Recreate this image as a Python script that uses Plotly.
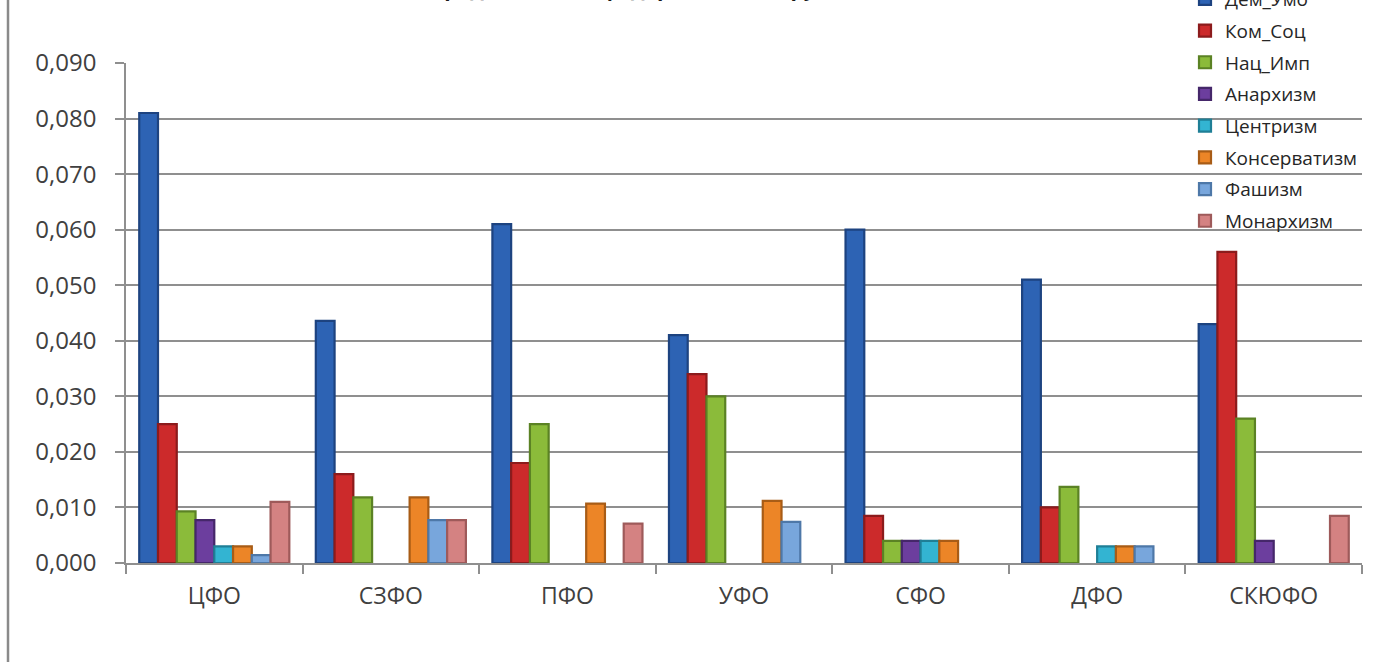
import plotly.graph_objects as go

# Federal districts on the category axis
regions = ["ЦФО", "СЗФО", "ПФО", "УФО", "СФО", "ДФО", "СКЮФО"]

# Share of each ideology per district (None = no value)
dem_umo = [0.081, 0.0436, 0.061, 0.041, 0.060, 0.051, 0.043]
kom_soc = [0.025, 0.016, 0.018, 0.034, 0.0085, 0.010, 0.056]
nac_imp = [0.0093, 0.0118, 0.025, 0.030, 0.004, 0.0137, 0.026]
anarhizm = [0.0077, None, None, None, 0.004, None, 0.004]
centrizm = [0.003, None, None, None, 0.004, 0.003, None]
konservatizm = [0.003, 0.0118, 0.0107, 0.0112, 0.004, 0.003, None]
fashizm = [0.0014, 0.0077, None, 0.0074, None, 0.003, None]
monarhizm = [0.011, 0.0077, 0.0071, None, None, None, 0.0085]

# (legend name, values, fill colour, edge colour)
series = [
    ("Дем_Умо", dem_umo, "#2d63b4", "#1d4380"),
    ("Ком_Соц", kom_soc, "#cc2a2b", "#8c1b1c"),
    ("Нац_Имп", nac_imp, "#8bbb3a", "#5b8224"),
    ("Анархизм", anarhizm, "#6c3e9e", "#45276a"),
    ("Центризм", centrizm, "#33b4d2", "#1f7f96"),
    ("Консерватизм", konservatizm, "#ec8527", "#a85c16"),
    ("Фашизм", fashizm, "#78a6dc", "#4e78a8"),
    ("Монархизм", monarhizm, "#d48282", "#9e5a5a"),
]

y_ticks = [0.0, 0.01, 0.02, 0.03, 0.04, 0.05, 0.06, 0.07, 0.08, 0.09]

W, H = 1375, 662
ML, MR, MT, MB = 126, 13, 63, 99
PW, PH = W - ML - MR, H - MT - MB

fig = go.Figure()
for name, vals, fill, edge in series:
    fig.add_trace(go.Bar(
        name=name, x=regions, y=vals,
        marker=dict(color=fill, line=dict(color=edge, width=2.2)),
        legendgroup=name,
    ))

font_family = "Open Sans, Noto Sans, DejaVu Sans, sans-serif"
grid_color = "#8f8f8f"

fig.update_layout(
    width=W, height=H,
    margin=dict(l=ML, r=MR, t=MT, b=MB, autoexpand=False),
    paper_bgcolor="white", plot_bgcolor="white",
    barmode="group", bargap=0.15, bargroupgap=0.0,
    separators=", ",
    font=dict(family=font_family, color="#404040"),
    title=dict(
        text="Распределение по федеральным округам",
        font=dict(size=21, color="#1a1a1a", family=font_family, weight="bold"),
        xref="container", yref="container",
        x=625 / W, xanchor="center",
        y=1.0, yanchor="bottom",
        pad=dict(b=4),
    ),
    legend=dict(
        x=(1185 - ML) / PW, xanchor="left",
        y=1 + (MT + 20) / PH, yanchor="top",
        font=dict(size=19, color="#262626", family=font_family),
        bgcolor="rgba(0,0,0,0)",
        tracegroupgap=4,
        itemwidth=30,
    ),
    showlegend=True,
)

fig.update_xaxes(
    type="category",
    showline=True, linecolor=grid_color, linewidth=1.5,
    ticks="outside", tickson="boundaries", ticklen=9, tickcolor=grid_color, tickwidth=1.5,
    tickfont=dict(size=23, color="#404040"),
    ticklabelstandoff=12,
    showgrid=False,
)
fig.update_yaxes(
    range=[0, 0.09], tickvals=y_ticks, tickformat=".3f",
    showline=True, linecolor=grid_color, linewidth=1.5,
    ticks="outside", ticklen=9, tickcolor=grid_color, tickwidth=1.5,
    showgrid=True, gridcolor=grid_color, gridwidth=1.8,
    tickfont=dict(size=24, color="#404040"),
    ticklabelstandoff=14,
    zeroline=False,
)

# Outer frame edge of the chart area on the left
fig.add_shape(
    type="line", xref="paper", yref="paper",
    x0=(8 - ML) / PW, x1=(8 - ML) / PW,
    y0=-(MB + 5) / PH, y1=1 + (MT + 5) / PH,
    line=dict(color="#8a8a8a", width=2.5),
)

fig.write_html("out.html")
